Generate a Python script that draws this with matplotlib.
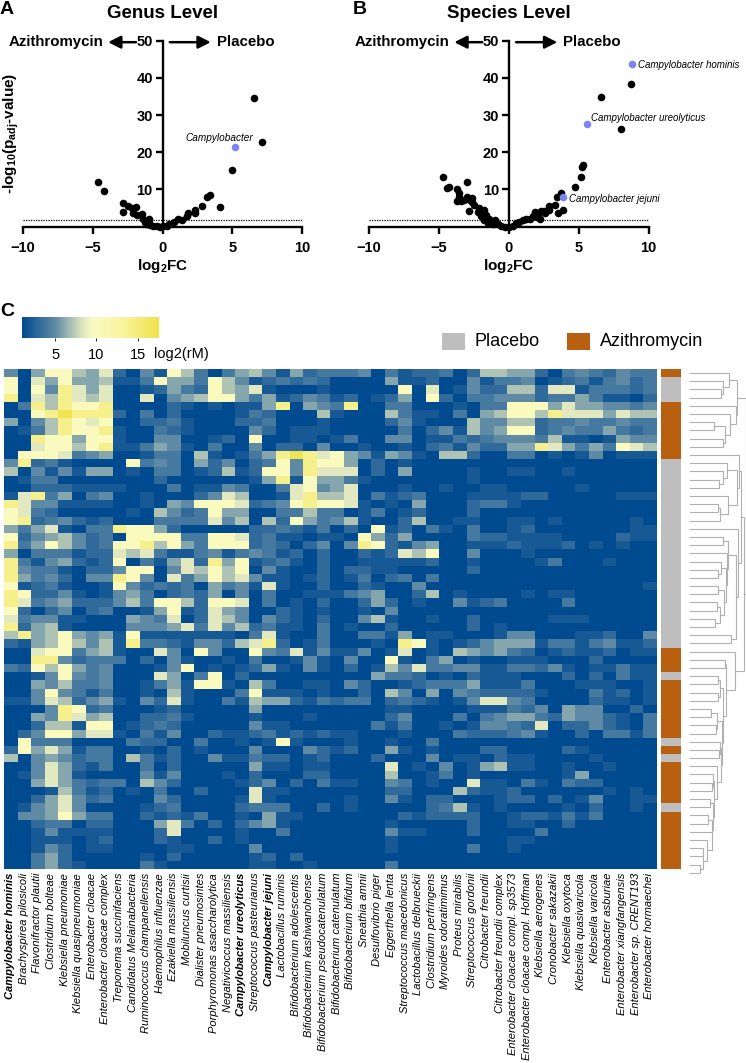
import matplotlib
matplotlib.use("Agg")
import matplotlib.pyplot as plt
import numpy as np
from matplotlib.colors import LinearSegmentedColormap, ListedColormap

W, H = 746, 1063

plt.rcParams['font.family'] = ['Liberation Sans', 'DejaVu Sans']
plt.rcParams['mathtext.fontset'] = 'custom'
plt.rcParams['mathtext.bf'] = 'Liberation Sans:bold'
plt.rcParams['mathtext.rm'] = 'Liberation Sans'

# volcano points, (log2FC, -log10 padj)
genus_x = [6.56, 7.14, 4.96, 4.15, 3.44, 3.22, 2.8, 2.3, 2.3, 1.86, 1.77, 1.43, 1.1, 0.8, 0.5, 0.3, 0.0,
           -4.65, -4.18, -2.84, -2.8, -2.46, -2.2, -1.93, -2.1, -1.86, -1.5, -1.38, -0.98, -1.26, -1.15,
           -0.9, -0.67, -0.43, -0.2, -1.0]
genus_y = [34.6, 22.9, 15.2, 5.3, 8.4, 7.9, 5.5, 4.5, 3.6, 3.6, 3.0, 1.8, 2.2, 1.3, 0.7, 0.3, 0.1,
           12.0, 9.7, 6.3, 3.9, 5.5, 4.9, 5.4, 3.6, 3.1, 3.4, 2.2, 2.2, 1.3, 0.7,
           0.5, 0.2, 0.1, 0.0, 1.1]
genus_blue_x = [5.2]
genus_blue_y = [21.5]

species_x = [8.71, 6.6, 8.0, 5.3, 5.25, 5.15, 4.7, 3.7, 3.46, 3.9, 3.5, 3.27, 2.9, 2.84, 2.3, 1.86, 2.2, 2.0,
             1.5, 1.0, 0.76, 0.5, 0.3, 0.0, 2.55, 1.7, 1.2, 2.1, 2.5,
             -4.7, -4.4, -4.3, -3.7, -3.0, -3.6, -3.7, -3.4, -3.6, -3.0, -2.67, -2.86, -3.2, -2.46, -2.2, -1.8,
             -2.0, -1.6, -1.8, -1.4, -1.5, -1.0, -1.15, -0.8, -0.55, -0.3, -2.6, -2.1, -2.8]
species_y = [38.3, 34.8, 26.3, 16.6, 16.0, 13.3, 10.8, 9.0, 8.1, 4.4, 3.6, 5.8, 5.6, 4.5, 4.3, 4.0, 2.2, 2.7,
             2.2, 1.8, 1.3, 0.9, 0.3, 0.0, 3.6, 2.9, 2.0, 3.4, 4.3,
             13.3, 10.5, 10.8, 10.0, 11.9, 9.0, 6.8, 6.9, 7.9, 8.1, 7.6, 4.3, 7.2, 5.8, 4.0, 4.5,
             2.9, 3.1, 1.8, 2.2, 1.1, 1.8, 0.7, 0.7, 0.2, 0.0, 6.7, 4.9, 7.2]
species_blue_x = [8.83, 5.6, 3.9]
species_blue_y = [43.8, 27.5, 7.9]
signif_line = 1.8

species = ["Campylobacter hominis", "Brachyspirea pilosicoli", "Flavonifractor plautii", "Clostridium bolteae",
           "Klebsiella pneumoniae", "Klebsiella quasipneumoniae", "Enterobacter cloacae", "Enterobacter cloacae complex",
           "Treponema succinifaciens", "Candidatus Melainabacteria", "Ruminococcus champanellensis",
           "Haemophilus influenzae", "Ezakiella massiliensis", "Mobiluncus curtisii", "Dialister pneumosintes",
           "Porphyromonas asaccharolytica", "Negativicoccus massiliensis", "Campylobacter ureolyticus",
           "Streptococcus pasteurianus", "Campylobacter jejuni", "Lactobacillus ruminis", "Bifidobacterium adolescentis",
           "Bifidobacterium kashiwanohense", "Bifidobacterium pseudocatenulatum", "Bifidobacterium catenulatum",
           "Bifidobacterium bifidum", "Sneathia amnii", "Desulfovibrio piger", "Eggerthella lenta",
           "Streptococcus macedonicus", "Lactobacillus delbrueckii", "Clostridium perfringens", "Myroides odoratimimus",
           "Proteus mirabilis", "Streptococcus gordonii", "Citrobacter freundii", "Citrobacter freundii complex",
           "Enterobacter cloacae compl. sp3573", "Enterobacter cloacae compl. Hoffman", "Klebsiella aerogenes",
           "Cronobacter sakazakii", "Klebsiella oxytoca", "Klebsiella quasivaricola", "Klebsiella varicola",
           "Enterobacter asburiae", "Enterobacter xiangfangensis", "Enterobacter sp. CRENT193", "Enterobacter hormaechei"]
bold_species = ["Campylobacter hominis", "Campylobacter ureolyticus", "Campylobacter jejuni"]

# heatmap cells as one hex digit each, columns 0-24 and 25-47, one string per row
heat_left = [
    "4058865720418630356415233", "8075855611385538641232320", "8084975700125328657100010",
    "9076976700704568853512431", "0396988900002101011590543", "0089a99920302000013200061",
    "5046987800223100022300010", "0136988910032100004201110", "0098858810044001208001101",
    "0078868911354103004022040", "088873450013306101359a978", "4923100008343052402384988",
    "6041415501033012612884977", "0133000000020000001591855", "0022211110003011430037845",
    "1793503400100024760017966", "9744111100105488872348988", "8732000001064238550033633",
    "8923421200033337460628534", "5357103398852000002232130", "8245642308888338872311011",
    "9358642388968538882320240", "5033312276731134134312020", "9314521280315729581231020",
    "9433102248804768680410020", "9534204498407358674110120", "8123100184232305341710020",
    "9822410145302325040300111", "9734522246388628870301020", "8202402300158127540021010",
    "7344110005437027640421020", "9256100004445737462311030", "6956854518111111103710030",
    "2156864619332144267920130", "0078835610074084008437141", "0099423330204100103001410",
    "3286853400014801012510410", "0014843400075038020000000", "0054633400135188106300110",
    "0048431300106100038111010", "1147624510427100316552132", "0004982300012000005000000",
    "0054975600223100001000100", "0026618801232000004110000", "0248857710314002112312121",
    "0833300003220030010181000", "2857513300102010004000421", "6045423306312004113220120",
    "0047521300302000005110110", "0147510000414000102000220", "0057532330642000012402031",
    "0001631201030020007110000", "0025742300042000017100000", "0145740000123000023330020",
    "0445853300212130010511000", "0023302200057302024510000", "0014111100027000010030000",
    "0011101200021002010000000", "0014201100001100004000000", "0035200000102000001202000",
    "0035210000310000001100100",
]
heat_right = [
    "34031223026655203432433", "00051120041334012313423", "00008070142266277133323",
    "20125082033444233531102", "90033000103388857554434", "00063110305688697775766",
    "00024100064466233433433", "00003024164588234335323", "30044011323444361101544",
    "01001023142255975353876", "54154106620033010140111", "50201000000000000000000",
    "70205000010011001000000", "31000000010000000000000", "70001001001100000100000",
    "70312300011112200000111", "71010500023310000000000", "01301200020000000000000",
    "61002600110011010000010", "20812031030012000000011", "08525000032211110000211",
    "49821450011121112010100", "02127680040001000000000", "01111120010000130001000",
    "22110000020000000000000", "13023030000000000000000", "02100400000000000000001",
    "34500260100001011000000", "02520100412300003000000", "01040000000000000000000",
    "04610010020000011100000", "10020000020100000000000", "03315011000144000112004",
    "00109810124555133134112", "14017010654532012112011", "40081035010011100020000",
    "20164733441133241011311", "00533201021110002020311", "42001233351113000111001",
    "02064050432222100031201", "33023210147743000021101", "00011000011132405440020",
    "00024000303455325442103", "00313001014432702242103", "10001000322234100203313",
    "10010030000000000000000", "20051010002200002100000", "00200040110211000010000",
    "00070104015611001001000", "00060013010000001500000", "10043010071103103220000",
    "00022000621120000001010", "10041022000122020140011", "10000023610100001020010",
    "00002122220012213130000", "00010000020011002000000", "00041100020000300000000",
    "00010000000011000000000", "00010000030010000000000", "00000000000000000000000",
    "00030000000000000000000",
]
# log2(rM) for each digit
digit_values = [1, 2, 3, 4, 5, 6, 7, 8.5, 10, 14, 17]

# P = placebo, A = azithromycin, one letter per row
treatment = "A" + "PPP" + "AAAAAAA" + "P" * 23 + "AAA" + "P" + "AAAAAAA" + "P" + "A" + "P" + "AAAAA" + "P" + "AAAAAAA"

# dendrogram: (merge height, upper child, lower child), L is the next row
L = None
top_a = (47, (39, L, (33, L, (31, L, L))), (46, L, (40, L, (35, (24, L, L), (33, L, L)))))
part_b = (49, L, (47, (37, L, (33, L, (29, L, L))), (38, L, (30, (28, L, L), L))))
part_z = (34, (28, L, L), (30, (27, L, L), (25, L, L)))
part_y = (38, (33, L, L), (37, L, (36, (31, L, (28, L, L)), part_z)))
part_c = (48, L, (46, part_y, (41, L, L)))
part_p = (22, L, (17, L, (13, (13, L, L), (10, L, L))))
part_s = (24, (23, L, (22, L, L)), (23, (20, L, L), (22, (18, L, L), part_p)))
part_t = (31, (30, L, (29, L, L)), (27, L, part_s))
part_v = (33, (30, (28, L, L), (28, L, L)), (32, (27, (21, L, L), (26, L, L)), part_t))
part_d = (45, L, (36, (35, L, L), part_v))
dendro = (56, top_a, (54, (51, part_b, part_c), part_d))

DARK = "#004A8F"
heat_cmap = LinearSegmentedColormap.from_list("heat", [
    (0.0, DARK), (4 / 16.5, "#5F8AA5"), (7 / 16.5, "#D6E0BE"), (8.5 / 16.5, "#FBFAC4"),
    (12 / 16.5, "#F9F5A0"), (1.0, "#EFE34A")])


def px_axes(x0, y0, x1, y1):
    return fig.add_axes([x0 / W, 1 - y1 / H, (x1 - x0) / W, (y1 - y0) / H])


def volcano(ax, x, y, bx, by, title, ylabel=False):
    ax.set_xlim(-10, 10)
    ax.set_ylim(0, 50)
    ax.axhline(signif_line, color="black", lw=0.9, ls=(0, (1, 1)), zorder=1)
    ax.scatter(x, y, s=30, color="black", clip_on=False, zorder=3, linewidths=0)
    ax.scatter(bx, by, s=30, color="#7D84F2", clip_on=False, zorder=4, linewidths=0)
    for s in ["top", "right"]:
        ax.spines[s].set_visible(False)
    ax.spines["left"].set_position(("data", 0))
    ax.spines["left"].set_linewidth(1.7)
    ax.spines["bottom"].set_linewidth(1.7)
    ax.set_xticks([-10, -5, 0, 5, 10])
    ax.set_yticks([10, 20, 30, 40, 50])
    ax.tick_params(width=1.7, length=5, labelsize=10.5, pad=2)
    ax.tick_params(axis="x", pad=5)
    for t in ax.get_xticklabels() + ax.get_yticklabels():
        t.set_fontweight("bold")
    ax.patch.set_alpha(0)
    ax.text(0, 57.2, title, ha="center", va="center", fontsize=13.5, fontweight="bold")
    ax.text(-4.25, 49.6, "Azithromycin", ha="right", va="center", fontsize=10.8, fontweight="bold")
    ax.text(3.9, 49.6, "Placebo", ha="left", va="center", fontsize=10.8, fontweight="bold")
    arrow = dict(arrowstyle="-|>,head_width=0.38,head_length=0.75", color="black", lw=1.8, shrinkA=0, shrinkB=0)
    ax.annotate("", xy=(-3.9, 49.6), xytext=(-1.9, 49.6), arrowprops=arrow, annotation_clip=False)
    ax.annotate("", xy=(3.46, 49.6), xytext=(0.52, 49.6), arrowprops=arrow, annotation_clip=False)
    ax.text(0, -10.5, r"log$_{\mathbf{2}}$FC", ha="center", va="center", fontsize=11, fontweight="bold")
    if ylabel:
        ax.text(-10.85, 25, r"-log$_{\mathbf{10}}$(p$_{\mathbf{adj}}$-value)", rotation=90, ha="center", va="center",
                fontsize=11, fontweight="bold")


def draw_tree(ax, node, counter):
    # returns (height, y) of the node
    if node is None:
        counter[0] += 1
        return 0, counter[0] - 0.5
    h, a, b = node
    ha, ya = draw_tree(ax, a, counter)
    hb, yb = draw_tree(ax, b, counter)
    ax.plot([ha, h, h, hb], [ya, ya, yb, yb], color="#B0B0B0", lw=0.8, solid_joinstyle="miter", clip_on=False)
    return h, (ya + yb) / 2


fig = plt.figure(figsize=(W / 100, H / 100), dpi=100)

ax_a = px_axes(23, 40.7, 302, 226.7)
volcano(ax_a, genus_x, genus_y, genus_blue_x, genus_blue_y, "Genus Level", ylabel=True)
ax_a.text(1.67, 23.8, "Campylobacter", style="italic", fontsize=7.2, ha="left", va="center")

ax_b = px_axes(369, 40.7, 648.7, 226.7)
volcano(ax_b, species_x, species_y, species_blue_x, species_blue_y, "Species Level")
ax_b.text(9.24, 43.5, "Campylobacter hominis", style="italic", fontsize=7.0, ha="left", va="center", clip_on=False)
ax_b.text(5.9, 29.1, "Campylobacter ureolyticus", style="italic", fontsize=7.0, ha="left", va="center")
ax_b.text(4.3, 7.4, "Campylobacter jejuni", style="italic", fontsize=7.0, ha="left", va="center")

fig.text(0 / W, 1 - 10 / H, "A", fontsize=14, fontweight="bold", ha="left", va="center")
fig.text(353 / W, 1 - 10 / H, "B", fontsize=14, fontweight="bold", ha="left", va="center")
fig.text(0 / W, 1 - 312 / H, "C", fontsize=14, fontweight="bold", ha="left", va="center")

# colour key
ax_key = px_axes(22, 316.5, 158.5, 338)
ax_key.imshow(np.linspace(1, 17.5, 256)[None, :], aspect="auto", cmap=heat_cmap, vmin=1, vmax=17.5,
              extent=[1, 17.5, 0, 1])
ax_key.set_yticks([])
ax_key.set_xticks([5, 10, 15])
ax_key.tick_params(axis="x", length=2.5, width=0.6, labelsize=10.5, pad=5)
for s in ax_key.spines.values():
    s.set_visible(False)
fig.text(154 / W, 1 - 354 / H, "log2(rM)", fontsize=10.5, ha="left", va="center")

# treatment legend
leg = px_axes(441.7, 333, 465, 350)
leg.set_facecolor("#BEBEBE")
leg.set_xticks([]); leg.set_yticks([])
for s in leg.spines.values():
    s.set_visible(False)
leg = px_axes(566.7, 333, 590, 350)
leg.set_facecolor("#B8600F")
leg.set_xticks([]); leg.set_yticks([])
for s in leg.spines.values():
    s.set_visible(False)
fig.text(474 / W, 1 - 342 / H, "Placebo", fontsize=13, ha="left", va="center")
fig.text(599.5 / W, 1 - 342 / H, "Azithromycin", fontsize=13, ha="left", va="center")

# heatmap
digits = [list(a + b) for a, b in zip(heat_left, heat_right)]
heat = np.array([[digit_values[int(c, 16)] for c in row] for row in digits])
ax_h = px_axes(3.5, 369, 656, 868.7)
ax_h.imshow(heat, aspect="auto", cmap=heat_cmap, vmin=1, vmax=17.5, interpolation="nearest")
ax_h.set_yticks([])
ax_h.set_xticks(np.arange(len(species)))
ax_h.set_xticklabels(species, rotation=90, style="italic", fontsize=8, ha="center", va="top")
ax_h.tick_params(axis="x", length=0, pad=3)
for t in ax_h.get_xticklabels():
    if t.get_text() in bold_species:
        t.set_fontweight("bold")
for s in ax_h.spines.values():
    s.set_visible(False)

# treatment bar
ax_t = px_axes(660.7, 369, 680, 868.7)
ax_t.imshow(np.array([[0 if c == "P" else 1] for c in treatment]), aspect="auto",
            cmap=ListedColormap(["#BEBEBE", "#B8600F"]), interpolation="nearest")
ax_t.axis("off")

# dendrogram
ax_d = px_axes(690, 369, 746, 868.7)
ax_d.set_xlim(0, 56)
ax_d.set_ylim(len(treatment), 0)
ax_d.axis("off")
draw_tree(ax_d, dendro, [0])

fig.savefig("out.png", dpi=100)
